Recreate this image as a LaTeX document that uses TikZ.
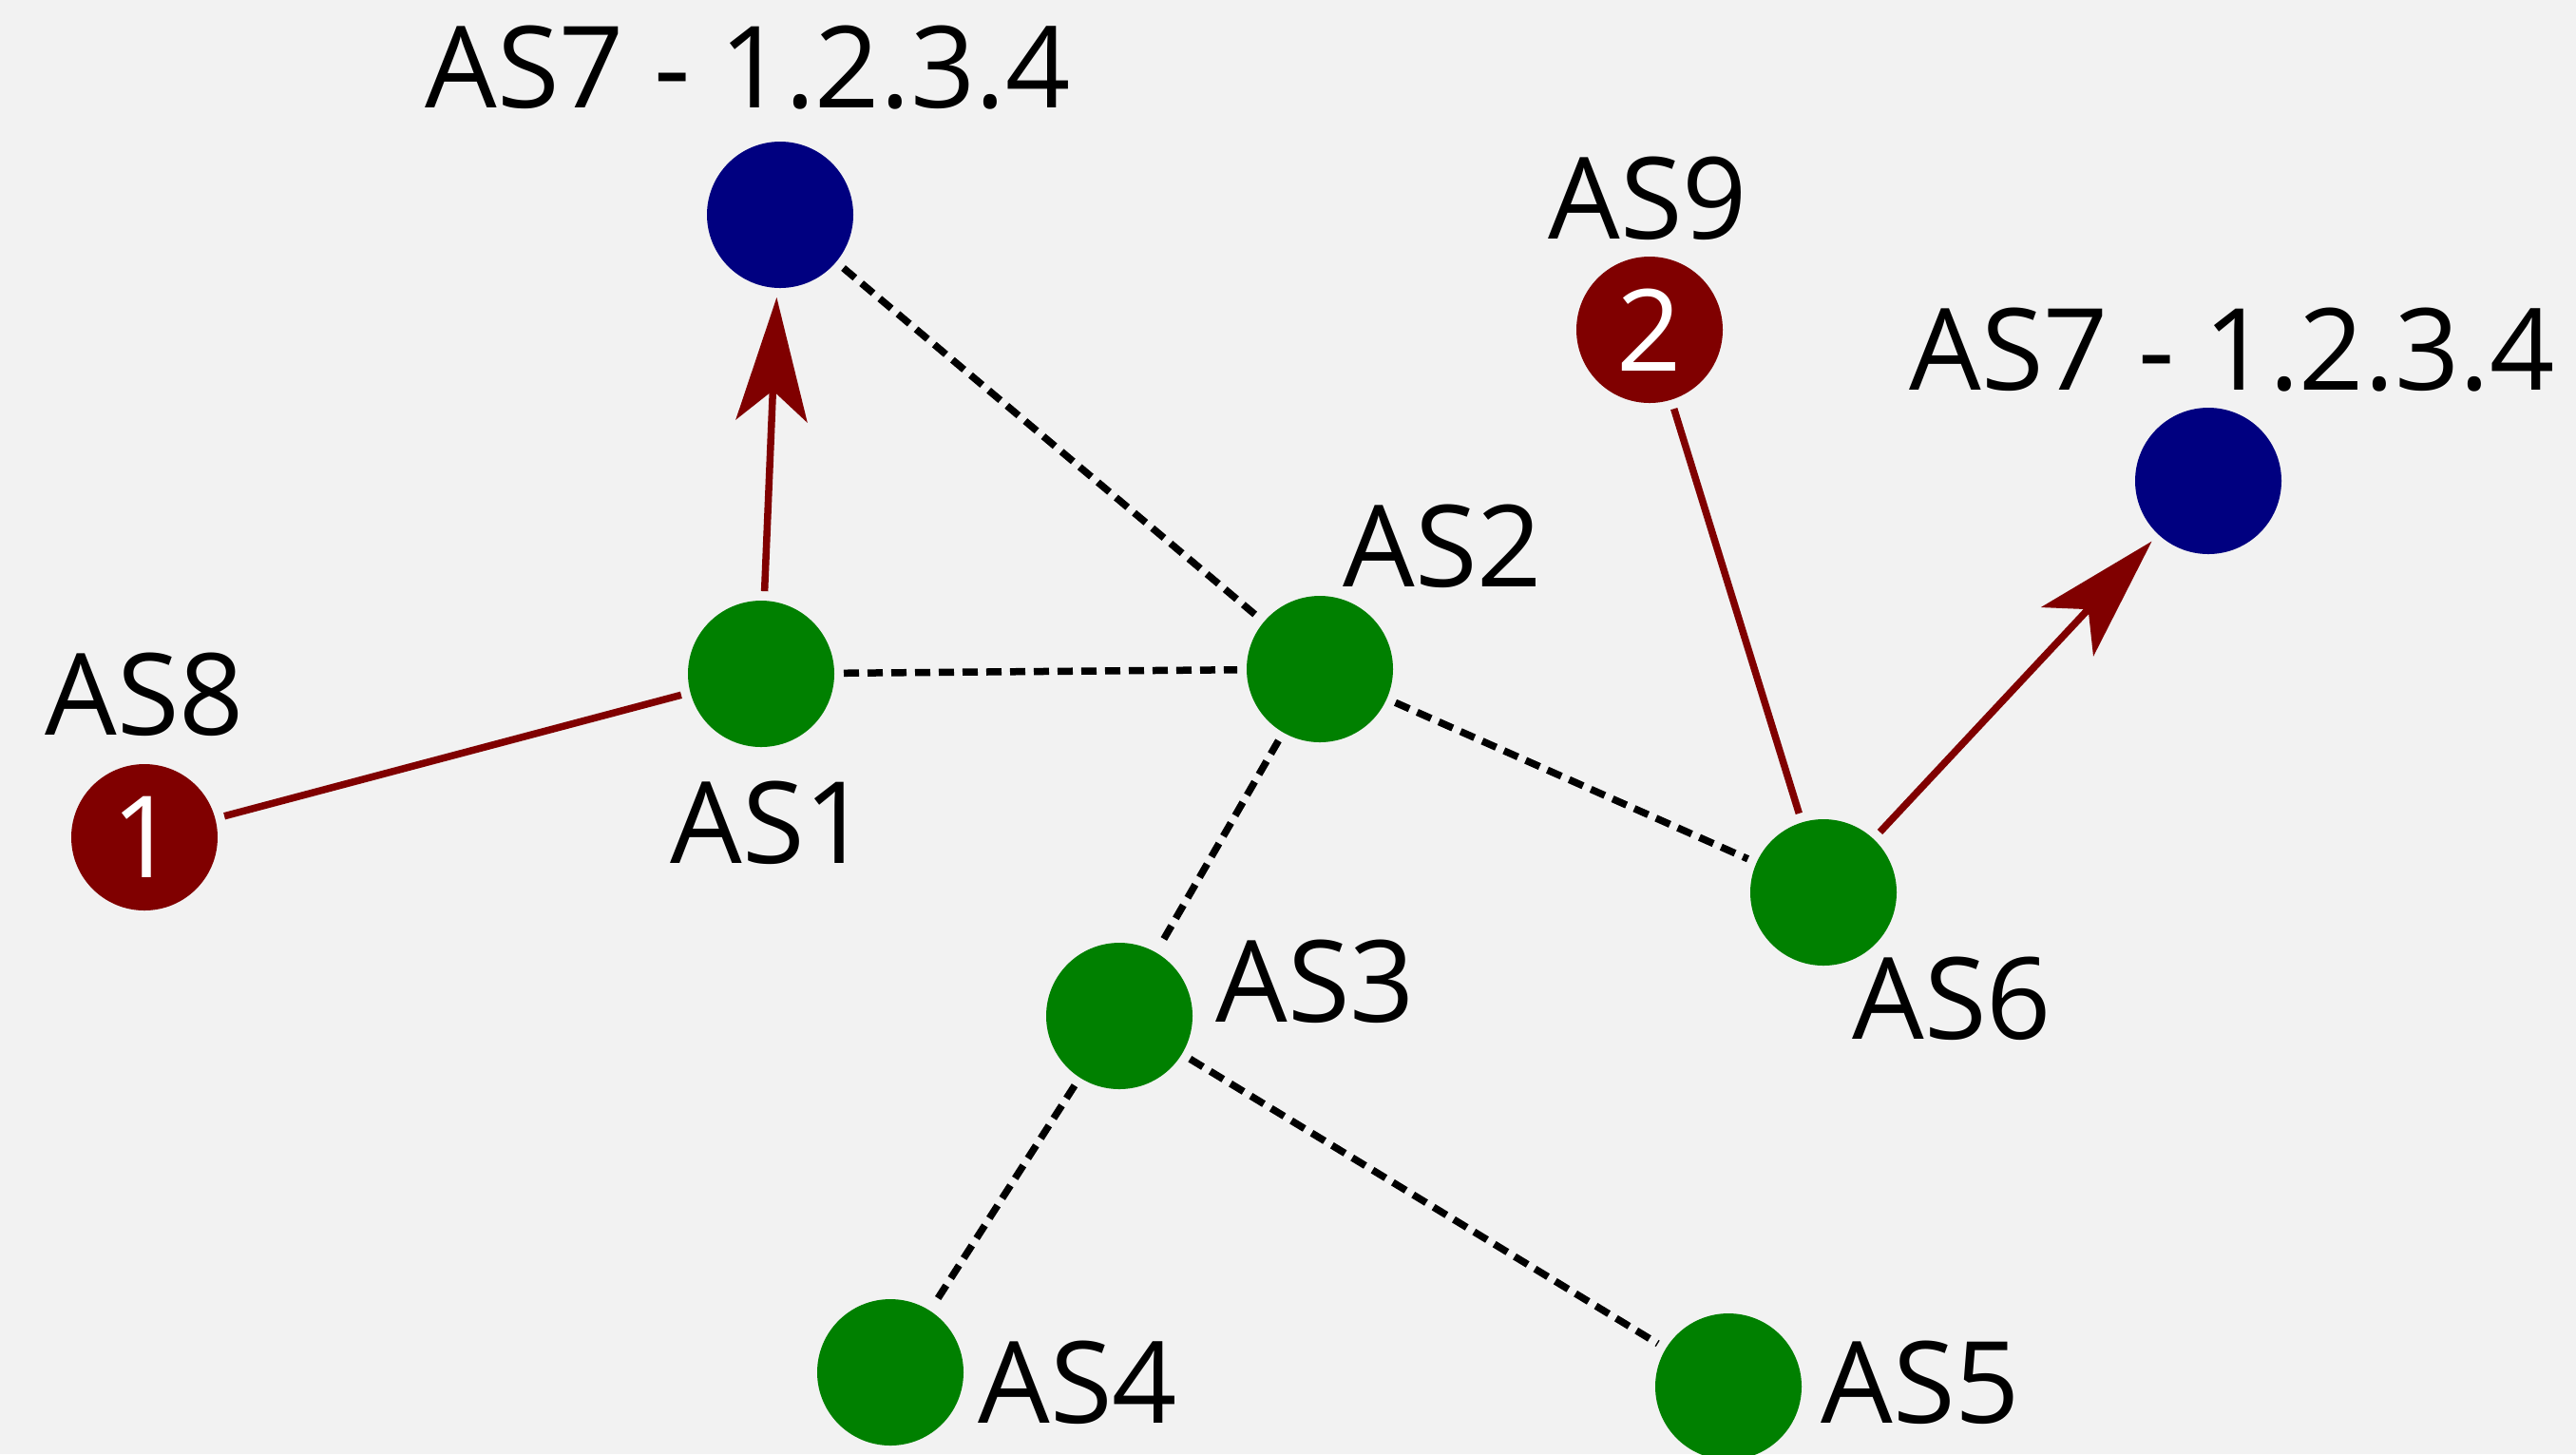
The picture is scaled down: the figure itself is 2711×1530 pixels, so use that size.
\documentclass[tikz,border=0pt]{standalone}
\usepackage{fontspec}
\setmainfont{Open Sans}
\usetikzlibrary{arrows.meta}
\definecolor{bg}{HTML}{F2F2F2}
\definecolor{asgreen}{HTML}{008000}
\definecolor{asnavy}{HTML}{000080}
\definecolor{asred}{HTML}{800000}
\begin{document}
\begin{tikzpicture}[x=0.1mm,y=-0.1mm,
  asnode/.style={circle,minimum size=15.4mm,inner sep=0pt,outer sep=1mm,
    font=\fontsize{34pt}{40pt}\selectfont},
  gnode/.style={asnode,fill=asgreen},
  bnode/.style={asnode,fill=asnavy},
  rnode/.style={asnode,fill=asred,text=white},
  lbl/.style={anchor=base west,inner sep=0pt,font=\fontsize{34pt}{40pt}\selectfont},
  peer/.style={draw=black,line width=0.75mm,dash pattern=on 1.6mm off 0.9mm},
  route/.style={draw=asred,line width=0.75mm},
  adv/.style={route,-{Stealth[length=13mm,width=7.5mm,inset=3.2mm]}}
]
\fill[bg] (0,0) rectangle (2711,1530);
\useasboundingbox (0,0) rectangle (2711,1530);

% nodes
\node[bnode] (t7) at (821,226) {};
\node[bnode] (r7) at (2324,506) {};
\node[gnode] (as1) at (801,709) {};
\node[gnode] (as2) at (1389,704) {};
\node[gnode] (as3) at (1178,1069) {};
\node[gnode] (as4) at (937,1444) {};
\node[gnode] (as5) at (1819,1459) {};
\node[gnode] (as6) at (1919,939) {};
\node[rnode] (as8) at (152,881) {1};
\node[rnode] (as9) at (1736,347) {2};

% labels
\node[lbl] (lt7) at (447,113) {AS7 - 1.2.3.4};
\node[lbl] (lr7) at (2009,410) {AS7 - 1.2.3.4};
\node[lbl] (l9) at (1629,251) {AS9};
\node[lbl] (l2) at (1413,617) {AS2};
\node[lbl] (l8) at (47,773) {AS8};
\node[lbl] (l1) at (705,908) {AS1};
\node[lbl] (l3) at (1279,1075) {AS3};
\node[lbl] (l6) at (1949,1093) {AS6};
\node[lbl] (l4) at (1029,1497) {AS4};
\node[lbl] (l5) at (1916,1497) {AS5};

% peering links
\draw[peer] (t7) -- (as2);
\draw[peer] (as1) -- (as2);
\draw[peer] (as2) -- (as6);
\draw[peer] (as2) -- (as3);
\draw[peer] (as3) -- (as4);
\draw[peer] (as3) -- (as5);

% routes
\draw[route] (as8) -- (as1);
\draw[route] (as9) -- (as6);
\draw[adv] (as1) -- (t7);
\draw[adv] (as6) -- (r7);
\end{tikzpicture}
\end{document}
